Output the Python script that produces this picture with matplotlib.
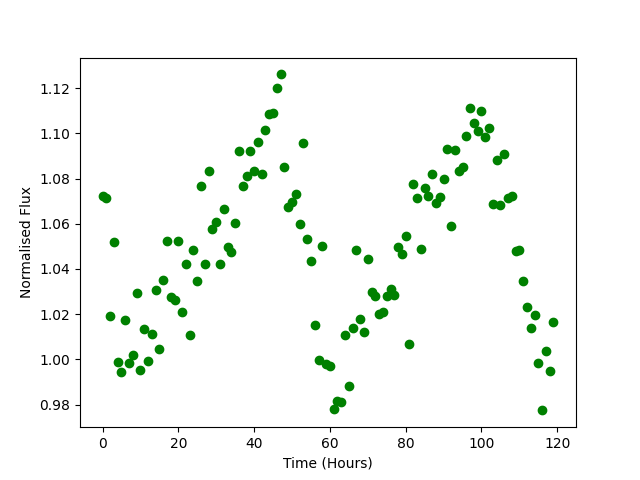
import numpy as np
import matplotlib
matplotlib.use("Agg")
import matplotlib.pyplot as plt

# Observation times (hours)
time_hours = np.arange(120)

# Normalised flux
flux = [
    1.0722, 1.0713, 1.0193, 1.0521, 0.9987, 0.9945, 1.0172, 0.9985, 1.0020, 1.0295,
    0.9954, 1.0135, 0.9994, 1.0113, 1.0309, 1.0047, 1.0353, 1.0525, 1.0277, 1.0261,
    1.0525, 1.0211, 1.0423, 1.0106, 1.0485, 1.0348, 1.0769, 1.0423, 1.0832, 1.0578,
    1.0606, 1.0423, 1.0667, 1.0496, 1.0475, 1.0605, 1.0920, 1.0769, 1.0813, 1.0920,
    1.0832, 1.0960, 1.0822, 1.1013, 1.1085, 1.1092, 1.1203, 1.1261, 1.0853, 1.0673,
    1.0698, 1.0733, 1.0600, 1.0956, 1.0534, 1.0437, 1.0153, 0.9998, 1.0500, 0.9980,
    0.9970, 0.9780, 0.9814, 0.9810, 1.0106, 0.9880, 1.0137, 1.0485, 1.0177, 1.0122,
    1.0446, 1.0297, 1.0280, 1.0200, 1.0210, 1.0280, 1.0311, 1.0286, 1.0497, 1.0464,
    1.0548, 1.0070, 1.0778, 1.0714, 1.0490, 1.0758, 1.0725, 1.0818, 1.0690, 1.0720,
    1.0797, 1.0929, 1.0590, 1.0925, 1.0835, 1.0853, 1.0990, 1.1114, 1.1044, 1.1009,
    1.1100, 1.0982, 1.1026, 1.0689, 1.0880, 1.0685, 1.0910, 1.0714, 1.0725, 1.0481,
    1.0485, 1.0345, 1.0233, 1.0137, 1.0198, 0.9982, 0.9774, 1.0038, 0.9950, 1.0167,
]

fig = plt.figure(figsize=(6.4, 4.8), dpi=100)
plt.plot(time_hours, flux, "go")
plt.xlabel("Time (Hours)")
plt.ylabel("Normalised Flux")
plt.savefig("out.png", dpi=100)
plt.close()
